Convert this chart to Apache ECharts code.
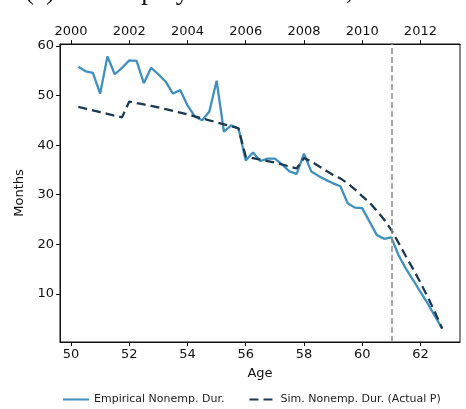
<!DOCTYPE html>
<html>
<head>
<meta charset="utf-8">
<style>
  html, body { margin: 0; padding: 0; background: #fff; }
  #chart { width: 466px; height: 409px; }
</style>
<script src="https://cdn.jsdelivr.net/npm/echarts@6/dist/echarts.min.js"></script>
</head>
<body>
<div id="chart"></div>
<script>
// Quarterly ages (years)
const ages = [
  50.25, 50.5, 50.75, 51.0, 51.25, 51.5, 51.75, 52.0, 52.25, 52.5, 52.75,
  53.0, 53.25, 53.5, 53.75, 54.0, 54.25, 54.5, 54.75, 55.0, 55.25, 55.5, 55.75,
  56.0, 56.25, 56.5, 56.75, 57.0, 57.25, 57.5, 57.75, 58.0, 58.25, 58.5, 58.75,
  59.0, 59.25, 59.5, 59.75, 60.0, 60.25, 60.5, 60.75, 61.0, 61.25, 61.5, 61.75,
  62.0, 62.25, 62.5, 62.75
];

// Empirical nonemployment duration (months)
const empirical = [
  55.8, 54.9, 54.6, 50.4, 57.9, 54.3, 55.6, 57.1, 57.0, 52.5, 55.6,
  54.3, 52.8, 50.4, 51.1, 48.0, 45.8, 45.0, 46.8, 53.0, 42.7, 44.0, 43.4,
  36.9, 38.5, 36.8, 37.3, 37.3, 36.1, 34.7, 34.2, 38.3, 34.7, 33.8, 33.0,
  32.3, 31.7, 28.3, 27.4, 27.3, 24.6, 21.9, 21.1, 21.4, 17.8, 15.1, 12.8,
  10.4, 8.1, 5.5, 3.0
];

// Simulated nonemployment duration with actual P (months)
const simulated = [
  47.7, 47.35, 47.0, 46.65, 46.3, 45.95, 45.6, 48.8, 48.5, 48.2, 47.9,
  47.6, 47.25, 46.9, 46.55, 46.2, 45.8, 45.4, 45.0, 44.6, 44.2, 43.8, 43.4,
  37.7, 37.4, 37.1, 36.8, 36.5, 36.1, 35.7, 35.3, 37.4, 36.7, 35.8, 34.9,
  34.0, 33.3, 32.3, 31.1, 29.7, 28.4, 26.8, 25.0, 22.9, 20.3, 17.6, 15.0,
  12.3, 9.4, 6.3, 3.0
];

// Axis tick labels
const ageTicks = [50, 52, 54, 56, 58, 60, 62];
const yearTicks = [2000, 2002, 2004, 2006, 2008, 2010, 2012];
const monthTicks = [10, 20, 30, 40, 50, 60];

// Age at which the vertical reference line is drawn
const markerAge = 61;
// Calendar year corresponding to age 0 on the top axis
const yearOffset = 1950;

const ageMin = 49.62, ageMax = 63.36;

const tickFont = { fontFamily: 'DejaVu Sans', fontSize: 13, color: '#111' };
const plain = v => String(Math.round(v));

const chart = echarts.init(document.getElementById('chart'), null, { renderer: 'canvas' });

chart.setOption({
  animation: false,
  backgroundColor: '#fff',
  title: {
    text: '(c) Nonemployment Duration, USA',
    left: 20,
    top: -27,
    textStyle: { fontFamily: 'Liberation Serif', fontSize: 27, fontWeight: 'normal', color: '#111' }
  },
  grid: {
    left: 60, right: 6, top: 44, bottom: 67,
    show: true, borderColor: '#111', borderWidth: 1, backgroundColor: 'transparent'
  },
  legend: {
    bottom: 4,
    left: 62,
    padding: 0,
    itemWidth: 26,
    itemHeight: 12,
    itemGap: 24,
    itemStyle: { opacity: 0 },
    textStyle: { fontFamily: 'DejaVu Sans', fontSize: 11, color: '#222' },
    data: ['Empirical Nonemp. Dur.', 'Sim. Nonemp. Dur. (Actual P)']
  },
  xAxis: [
    {
      type: 'value', position: 'bottom', min: ageMin, max: ageMax,
      name: 'Age', nameLocation: 'middle', nameGap: 25,
      nameTextStyle: { fontFamily: 'DejaVu Sans', fontSize: 13, color: '#111' },
      axisLine: { show: true, lineStyle: { color: '#111', width: 1 } },
      axisTick: { show: true, length: 4, customValues: ageTicks, lineStyle: { color: '#111' } },
      axisLabel: Object.assign({ customValues: ageTicks, margin: 6, formatter: plain }, tickFont),
      splitLine: { show: false }
    },
    {
      type: 'value', position: 'top', min: ageMin + yearOffset, max: ageMax + yearOffset,
      axisLine: { show: true, lineStyle: { color: '#111', width: 1 } },
      axisTick: { show: true, length: 4, customValues: yearTicks, lineStyle: { color: '#111' } },
      axisLabel: Object.assign({ customValues: yearTicks, margin: 6, formatter: plain }, tickFont),
      splitLine: { show: false }
    }
  ],
  yAxis: {
    type: 'value', min: 0.3, max: 60.4,
    name: 'Months', nameLocation: 'middle', nameGap: 32,
    nameTextStyle: { fontFamily: 'DejaVu Sans', fontSize: 13, color: '#111' },
    axisLine: { show: true, lineStyle: { color: '#111', width: 1 } },
    axisTick: { show: true, length: 4, customValues: monthTicks, lineStyle: { color: '#111' } },
    axisLabel: Object.assign({ customValues: monthTicks, margin: 6, formatter: plain }, tickFont),
    splitLine: { show: false }
  },
  series: [
    {
      name: 'Empirical Nonemp. Dur.',
      type: 'line',
      xAxisIndex: 0,
      data: ages.map((a, i) => [a, empirical[i]]),
      showSymbol: false,
      symbol: 'none',
      itemStyle: { color: '#3f8fbf' },
      lineStyle: { color: '#3f8fbf', width: 2.3 },
      z: 3,
      markLine: {
        silent: true,
        symbol: 'none',
        label: { show: false },
        lineStyle: { color: '#8a8a8a', type: [6, 3], width: 1.5 },
        data: [{ xAxis: markerAge }]
      }
    },
    {
      name: 'Sim. Nonemp. Dur. (Actual P)',
      type: 'line',
      xAxisIndex: 0,
      data: ages.map((a, i) => [a, simulated[i]]),
      showSymbol: false,
      symbol: 'none',
      itemStyle: { color: '#1b3a52' },
      lineStyle: { color: '#1b3a52', width: 2.3, type: [9, 5] },
      z: 4
    }
  ]
});
</script>
</body>
</html>
